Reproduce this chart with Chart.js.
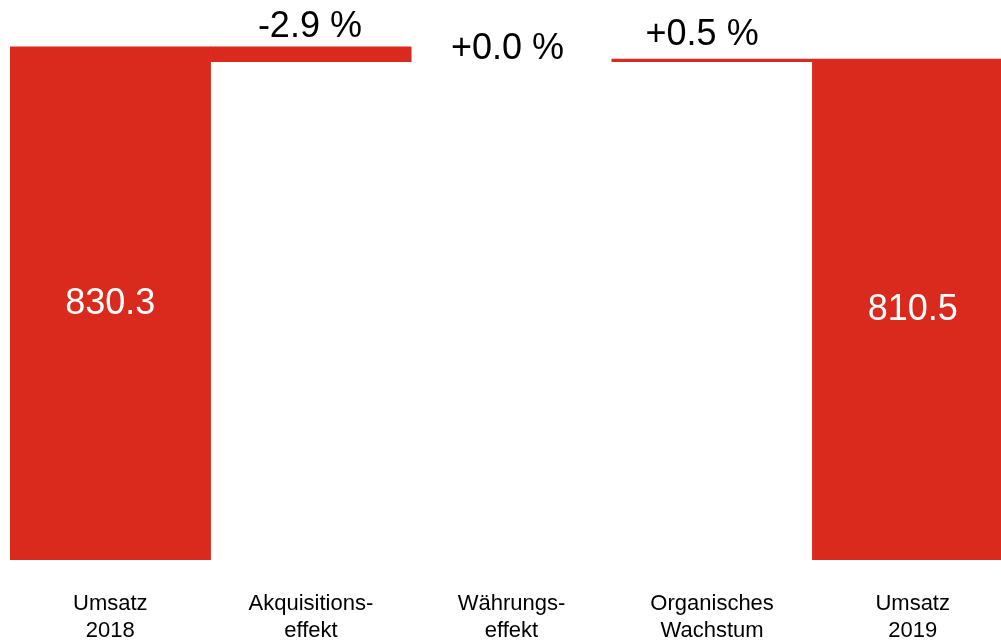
<!DOCTYPE html>
<html>
<head>
<meta charset="utf-8">
<script src="https://cdn.jsdelivr.net/npm/chart.js@4"></script>
<style>
  html, body { margin: 0; padding: 0; background: #fff; overflow: hidden; }
  #wrap { width: 1013px; height: 641px; }
</style>
</head>
<body>
<div id="wrap"><canvas id="myChart" width="1013" height="641"></canvas></div>
<script>
const categories = [
  ["Umsatz", "2018"],
  ["Akquisitions-", "effekt"],
  ["Währungs-", "effekt"],
  ["Organisches", "Wachstum"],
  ["Umsatz", "2019"],
];
const barStart = [0, 830.3, 806.2, 806.2, 0];
const barEnd = [830.3, 806.2, 806.2, 810.5, 810.5];
const valueLabels = ["830.3", "-2.9 %", "+0.0 %", "+0.5 %", "810.5"];
const isTotal = [true, false, false, false, true];

const RED = "#DA2A1E";
const FONT = "'Liberation Sans', Arial, sans-serif";

// label nudges for the percent texts (px above bar top, px sideways)
const labelLift = [0, 10, 3, 14, 0];
const labelShift = [0, -1, -4, -10, 0];

const waterfallLabels = {
  id: "waterfallLabels",
  afterDatasetsDraw(chart) {
    const ctx = chart.ctx;
    const meta = chart.getDatasetMeta(0);
    ctx.save();
    ctx.textAlign = "center";
    meta.data.forEach((bar, i) => {
      const top = Math.min(bar.y, bar.base);
      const bottom = Math.max(bar.y, bar.base);
      if (isTotal[i]) {
        ctx.font = "36px " + FONT;
        ctx.fillStyle = "#fff";
        ctx.textBaseline = "middle";
        ctx.fillText(valueLabels[i], bar.x, (top + bottom) / 2 + 1);
      } else {
        ctx.font = "36px " + FONT;
        ctx.fillStyle = "#000";
        ctx.textBaseline = "alphabetic";
        ctx.fillText(valueLabels[i], bar.x + labelShift[i], top - labelLift[i]);
      }
    });
    ctx.restore();
  },
};

new Chart(document.getElementById("myChart").getContext("2d"), {
  type: "bar",
  data: {
    labels: categories,
    datasets: [
      {
        data: barStart.map((s, i) => [s, barEnd[i]]),
        backgroundColor: barStart.map((s, i) => (s === barEnd[i] ? "rgba(0,0,0,0)" : RED)),
        borderWidth: 0,
        barPercentage: 1,
        categoryPercentage: 1,
      },
    ],
  },
  options: {
    responsive: false,
    animation: false,
    layout: { padding: { left: 10, right: 0, top: 0, bottom: 0 } },
    plugins: {
      legend: { display: false },
      tooltip: { enabled: false },
    },
    scales: {
      y: {
        display: false,
        min: 0,
        max: 906,
      },
      x: {
        grid: { display: false, drawTicks: false },
        border: { display: false },
        afterFit(scale) {
          scale.height = 81;
        },
        ticks: {
          color: "#000",
          padding: 31,
          maxRotation: 0,
          autoSkip: false,
          font: { family: FONT, size: 22, lineHeight: 1.2 },
        },
      },
    },
  },
  plugins: [waterfallLabels],
});
</script>
</body>
</html>
